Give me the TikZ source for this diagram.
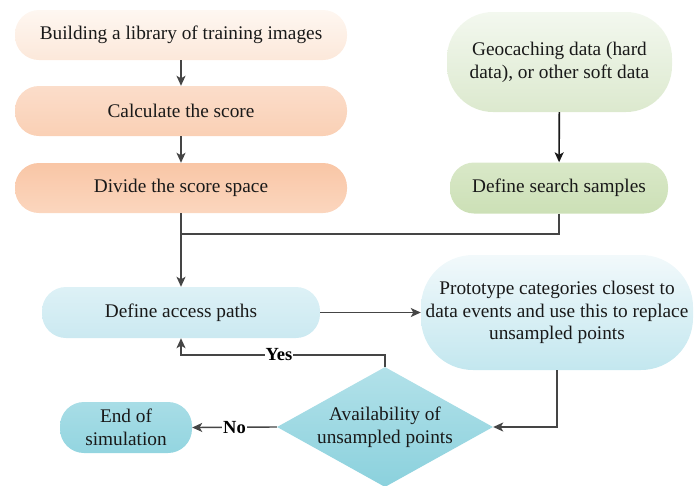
\documentclass[tikz,border=0pt]{standalone}
\usepackage{fontspec}
\setmainfont{Liberation Serif}
\usetikzlibrary{arrows.meta,shapes.geometric,calc}
\definecolor{lc}{HTML}{454545}
\definecolor{o1t}{HTML}{FEF7F1}\definecolor{o1b}{HTML}{FCE8DA}
\definecolor{o2t}{HTML}{FBDDCA}\definecolor{o2b}{HTML}{FAD0B5}
\definecolor{o3t}{HTML}{F9C6A6}\definecolor{o3b}{HTML}{FBD6BE}
\definecolor{g1t}{HTML}{F3F8EF}\definecolor{g1b}{HTML}{DCE9CE}
\definecolor{g2t}{HTML}{D9E8C8}\definecolor{g2b}{HTML}{CCE0B6}
\definecolor{a1t}{HTML}{DDF1F6}\definecolor{a1b}{HTML}{CBE9F1}
\definecolor{p1t}{HTML}{F2F9FB}\definecolor{p1b}{HTML}{C3E7EF}
\definecolor{d1t}{HTML}{B2E1E9}\definecolor{d1b}{HTML}{8BD1DD}
\definecolor{e1t}{HTML}{A8DDE6}\definecolor{e1b}{HTML}{93D5E0}
\tikzset{
  box/.style={rectangle, inner sep=0pt, align=center, text=black!90,
     font=\fontsize{19.3}{22.8}\selectfont},
  arr/.style={draw=lc, line width=1.4pt, -{Stealth[length=10pt,width=9pt,inset=2.5pt]}},
  ln/.style={draw=lc, line width=1.4pt},
  lab/.style={font=\fontsize{18.5}{20}\selectfont\bfseries, inner sep=1pt, fill=white}
}
\begin{document}
\begin{tikzpicture}[x=1pt,y=-1pt]
\useasboundingbox (0,0) rectangle (694,485);
% orange column
\node[box, minimum width=332pt, minimum height=50pt, rounded corners=24pt,
  top color=o1t, bottom color=o1b] (b1) at (181,35) {Building a library of training images};
\node[box, minimum width=332pt, minimum height=50pt, rounded corners=24pt,
  top color=o2t, bottom color=o2b] (b2) at (181,111) {Calculate the score};
\node[box, minimum width=332pt, minimum height=50pt, rounded corners=24pt,
  top color=o3t, bottom color=o3b] (b3) at (181,188) {Divide the score space};
% green column
\node[box, minimum width=225pt, minimum height=100pt, rounded corners=46pt,
  top color=g1t, bottom color=g1b] (g1) at (559.5,62) {Geocaching data (hard\\data), or other soft data};
\node[box, minimum width=218pt, minimum height=51pt, rounded corners=24pt,
  top color=g2t, bottom color=g2b] (g2) at (559,188) {Define search samples};
% blue
\node[box, minimum width=278pt, minimum height=51pt, rounded corners=24pt,
  top color=a1t, bottom color=a1b] (acc) at (181,312.5) {Define access paths};
\node[box, minimum width=272pt, minimum height=115pt, rounded corners=52pt,
  top color=p1t, bottom color=p1b] (pro) at (557,312.5) {Prototype categories closest to\\data events and use this to replace\\unsampled points};
\node[diamond, minimum width=216pt, minimum height=120pt, inner sep=0pt,
  top color=d1t, bottom color=d1b] (dia) at (385,427) {};
\node[box] (diat) at (dia.center) {Availability of\\unsampled points};
\node[box, minimum width=132pt, minimum height=51pt, rounded corners=24pt,
  top color=e1t, bottom color=e1b] (end) at (126,427.5) {End of\\simulation};
% connectors
\draw[arr] (b1) -- (b2);
\draw[arr] (b2) -- (b3);
\draw[arr, draw=black!90, line width=1.6pt] (g1) -- (g2);
\coordinate (j) at (181,234);
\draw[ln] (g2.south) |- (j);
\draw[arr] (b3.south) -- (acc.north);
\draw[arr] (acc.east) -- (pro.west);
\draw[arr] (pro.south) |- (dia.east);
\coordinate (y1) at (dia.north |- 0,355);
\draw[arr] (dia.north) -- (y1) -| node[lab, pos=0.26] {Yes} (acc.south);
\draw[arr] (dia.west) -- node[lab] {No} (end.east);
\end{tikzpicture}
\end{document}
